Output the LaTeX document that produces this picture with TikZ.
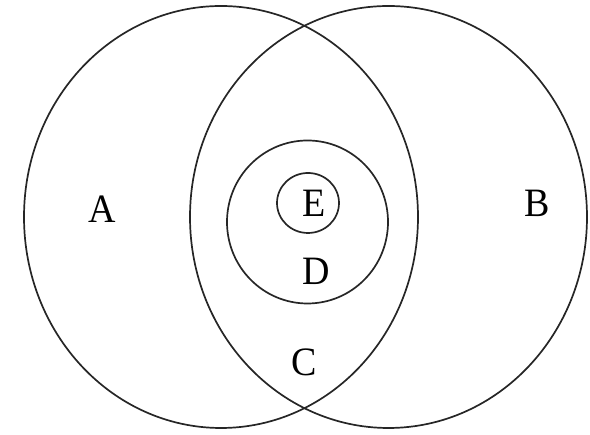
\documentclass[tikz,border=0pt]{standalone}
\usepackage{fontspec}
\setmainfont{Liberation Serif}
\usepackage{tikz}

\begin{document}
\begin{tikzpicture}[x=1pt,y=1pt,
  ring/.style={draw=black!85,line width=1.7pt},
  setname/.style={font=\fontsize{38}{40}\selectfont,inner sep=0pt,yscale=1.06}
]
\useasboundingbox (0,0) rectangle (590,435);
% the two large sets
\draw[ring] (221,218) ellipse (197 and 211);
\draw[ring] (388.5,218) ellipse (198.5 and 211);
% nested sets inside the overlap
\draw[ring] (307.5,213) ellipse (80.5 and 81.5);
\draw[ring] (308,232) ellipse (31 and 30);
% labels
\node[setname] (a) at (102,226) {A};
\node[setname] (b) at (537,232) {B};
\node[setname] (c) at (304,73) {C};
\node[setname] (d) at (316,164) {D};
\node[setname] (e) at (314,232) {E};
\end{tikzpicture}
\end{document}
